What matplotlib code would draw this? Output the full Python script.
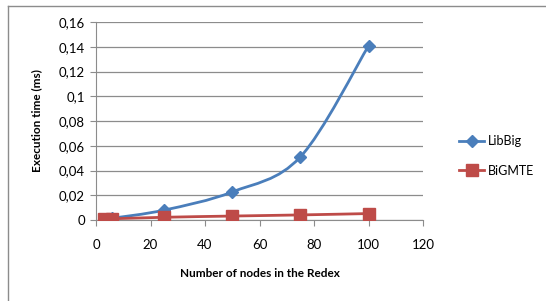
import matplotlib.pyplot as plt
import numpy as np
from matplotlib.path import Path
from matplotlib.patches import PathPatch
from matplotlib.lines import Line2D
from matplotlib.ticker import FuncFormatter

nodes = [3, 6, 25, 50, 75, 100]
libbig = [0.0012, 0.0015, 0.008, 0.0227, 0.051, 0.1407]
bigmte = [0.0010, 0.0010, 0.0022, 0.0032, 0.0041, 0.0052]

blue = "#4a7ebb"
red = "#be4b48"

plt.rcParams["font.family"] = ["Lato", "DejaVu Sans"]


def smooth_path(x, y, t=1/6):
    # Excel-like smoothed line: cubic bezier through the points
    x = np.asarray(x, float)
    y = np.asarray(y, float)
    verts = [(x[0], y[0])]
    codes = [Path.MOVETO]
    n = len(x)
    for i in range(n - 1):
        p0 = np.array([x[max(i - 1, 0)], y[max(i - 1, 0)]])
        p1 = np.array([x[i], y[i]])
        p2 = np.array([x[i + 1], y[i + 1]])
        p3 = np.array([x[min(i + 2, n - 1)], y[min(i + 2, n - 1)]])
        c1 = p1 + (p2 - p0) * t
        c2 = p2 - (p3 - p1) * t
        verts += [tuple(c1), tuple(c2), tuple(p2)]
        codes += [Path.CURVE4] * 3
    return Path(verts, codes)


fig = plt.figure(figsize=(5.46, 3.01), dpi=100)
ax = fig.add_axes([96 / 546, 81 / 301, 327 / 546, 198 / 301])

ax.add_patch(PathPatch(smooth_path(nodes, libbig), fill=False, edgecolor=blue, lw=2, zorder=3))
ax.add_patch(PathPatch(smooth_path(nodes, bigmte), fill=False, edgecolor=red, lw=2, zorder=3))
ax.plot(nodes, libbig, ls="none", marker="D", ms=6, color=blue, zorder=4)
ax.plot(nodes, bigmte, ls="none", marker="s", ms=8, color=red, zorder=4)

ax.set_xlim(0, 120)
ax.set_ylim(0, 0.16)
ax.set_xticks(np.arange(0, 121, 20))
ax.set_yticks(np.arange(0, 0.161, 0.02))
ax.yaxis.set_major_formatter(FuncFormatter(lambda v, p: f"{round(v, 2):g}".replace(".", ",")))
ax.grid(axis="y", color="#8c8c8c", lw=0.9)
ax.set_axisbelow(True)
for s in ["top", "right"]:
    ax.spines[s].set_visible(False)
for s in ["left", "bottom"]:
    ax.spines[s].set_color("#8c8c8c")
ax.tick_params(colors="#8c8c8c", labelcolor="black", labelsize=9.5, length=4, pad=10)
ax.tick_params(axis="y", pad=4)

ax.set_xlabel("Number of nodes in the Redex", fontsize=8.5, fontweight="bold", labelpad=12)
ax.set_ylabel("Execution time (ms)", fontsize=8.5, fontweight="bold", labelpad=12)

handles = [
    Line2D([], [], color=blue, lw=2, marker="D", ms=6),
    Line2D([], [], color=red, lw=2, marker="s", ms=8),
]
fig.legend(handles, ["LibBig", "BiGMTE"], loc="center left", bbox_to_anchor=(448 / 546, 1 - 156 / 301),
           frameon=False, fontsize=9, handlelength=2.0, handletextpad=0.3, labelspacing=1.4)

fig.add_artist(Line2D([8 / 546, 8 / 546], [0, 1 - 6 / 301], transform=fig.transFigure, color="#8c8c8c", lw=1))
fig.add_artist(Line2D([8 / 546, 1], [1 - 6 / 301, 1 - 6 / 301], transform=fig.transFigure, color="#8c8c8c", lw=1))

fig.savefig("out.png", dpi=100)
